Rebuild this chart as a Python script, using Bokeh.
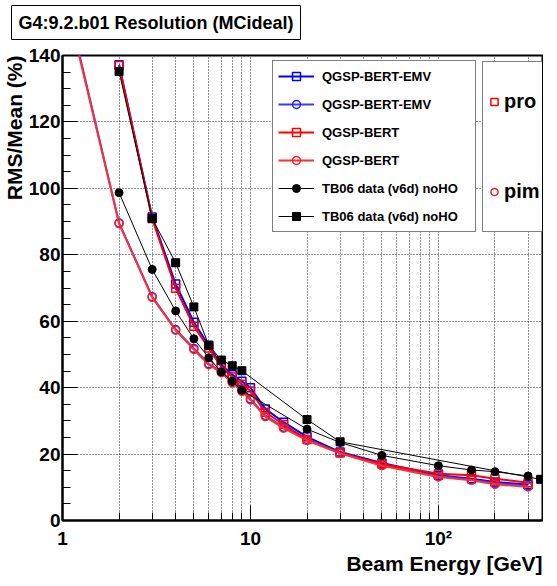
import math
from bokeh.plotting import figure
from bokeh.models import (Title, Legend, LegendItem, FixedTicker, Range1d,
                          ColumnDataSource, CustomJSTickFormatter)
from bokeh.embed import file_html
from bokeh.resources import INLINE

FONT = "Liberation Sans"

# ---------------- data ----------------
energy_mc = [2, 3, 4, 5, 6, 7, 8, 9, 10, 12, 15, 20, 30, 50, 100, 150, 200, 300]
energy_mc_pim = [1, 2, 3, 4, 5, 6, 7, 8, 9, 10, 12, 15, 20, 30, 50, 100, 150, 200, 300]

emv_pro = [137.2, 91.4, 71.2, 59.7, 52.7, 46.9, 43.9, 41.9, 40.0, 33.6, 29.6, 25.2,
           20.6, 17.3, 13.6, 12.6, 11.6, 10.8]
bert_pro = [137.0, 90.9, 69.9, 58.5, 51.9, 46.2, 43.2, 41.0, 39.0, 32.6, 28.9, 24.4,
            20.3, 17.0, 14.1, 13.6, 12.6, 11.4]
emv_pim = [162.0, 89.6, 67.4, 57.5, 51.8, 47.2, 44.8, 41.8, 39.2, 36.6, 31.6, 28.1,
           24.4, 20.4, 16.8, 13.3, 12.3, 11.2, 10.4]
bert_pim = [161.0, 89.4, 67.2, 57.3, 51.5, 46.9, 44.5, 41.5, 38.9, 36.3, 31.3, 27.8,
            24.1, 20.2, 16.5, 13.1, 12.1, 10.9, 10.1]

energy_data_pim = [2, 3, 4, 5, 6, 7, 8, 9, 20, 30, 50, 100, 150, 200, 300]
data_pim = [98.7, 75.6, 63.1, 54.7, 49.0, 44.7, 41.9, 39.2, 27.5, 23.5, 19.6, 16.5,
            15.2, 14.7, 13.4]
energy_data_pro = [2, 3, 4, 5, 6, 7, 8, 9, 20, 30, 350]
data_pro = [135.2, 90.9, 77.6, 64.3, 52.8, 48.3, 46.6, 45.1, 30.4, 23.7, 12.4]

x_major_ticks = [1, 10, 100]
x_tick_labels = ["1", "10", "10\u00b2"]
x_minor_ticks = [2, 3, 4, 5, 6, 7, 8, 9, 20, 30, 40, 50, 60, 70, 80, 90, 200, 300]
y_major_ticks = [0, 20, 40, 60, 80, 100, 120, 140]
y_minor_ticks = [v for v in range(0, 141, 5) if v % 20]

title_text = "G4:9.2.b01 Resolution (MCideal)"
x_title = "Beam Energy [GeV]"
y_title = "RMS/Mean (%)"
legend_labels = ["QGSP-BERT-EMV", "QGSP-BERT-EMV", "QGSP-BERT", "QGSP-BERT",
                 "TB06 data (v6d) noHO", "TB06 data (v6d) noHO"]
particle_labels = ["pro", "pim"]

# ---------------- layout ----------------
FL, FT, FW, FH = 58, 48, 480, 465
X_END, Y_END = 358.0, 140.0

p = figure(x_axis_type="log", x_range=Range1d(1, X_END), y_range=Range1d(0, Y_END),
           frame_width=FW, frame_height=FH,
           min_border_left=FL, min_border_right=1, min_border_top=FT, min_border_bottom=0,
           output_backend="svg", toolbar_location=None,
           background_fill_color="white", border_fill_color="white")
p.title.visible = False

# grid
for g in (p.xgrid[0], p.ygrid[0]):
    g.grid_line_color = "black"
    g.grid_line_dash = "1 2"
    g.grid_line_width = 1
    g.grid_line_alpha = 0.85
p.xgrid[0].minor_grid_line_color = "black"
p.xgrid[0].minor_grid_line_dash = "1 2"
p.xgrid[0].minor_grid_line_alpha = 0.85

p.xaxis[0].ticker = FixedTicker(ticks=x_major_ticks, minor_ticks=x_minor_ticks)
p.yaxis[0].ticker = FixedTicker(ticks=y_major_ticks, minor_ticks=y_minor_ticks)
p.xaxis[0].formatter = CustomJSTickFormatter(
    args=dict(vals=x_major_ticks, labs=x_tick_labels),
    code="const i = vals.indexOf(tick); return i >= 0 ? labs[i] : String(tick);")

for ax in (p.xaxis[0], p.yaxis[0]):
    ax.axis_line_width = 2
    ax.axis_line_color = "black"
    ax.major_tick_in = 15
    ax.major_tick_out = 0
    ax.minor_tick_in = 8
    ax.minor_tick_out = 0
    ax.major_tick_line_width = 1
    ax.minor_tick_line_width = 1
    ax.major_tick_line_color = "black"
    ax.minor_tick_line_color = "black"
    ax.major_label_text_font = FONT
    ax.major_label_text_font_style = "bold"
    ax.major_label_text_font_size = "19px"
    ax.major_label_text_color = "black"
p.yaxis[0].major_label_standoff = 2
p.xaxis[0].major_label_standoff = 7

p.outline_line_color = "black"
p.outline_line_width = 2

# ---------------- series ----------------
series = [
    (energy_mc, emv_pro, "#0000ff", "square", "open"),
    (energy_mc_pim, emv_pim, "#3c3cff", "circle", "open"),
    (energy_mc, bert_pro, "#ff0000", "square", "open"),
    (energy_mc_pim, bert_pim, "#ff3030", "circle", "open"),
    (energy_data_pim, data_pim, "black", "circle", "filled"),
    (energy_data_pro, data_pro, "black", "square", "filled"),
]
marker_colors = ["#0000ff", "#2020ff", "#ff0000", "#ff1a1a", "black", "black"]

items = []
scatters = []
for (xs, ys, col, mk, kind), mcol, lab in zip(series, marker_colors, legend_labels):
    src = ColumnDataSource(dict(E=xs, v=ys))
    if kind == "open":
        lr = p.line("E", "v", source=src, line_color=col, line_width=2)
        sr = p.scatter("E", "v", source=src, marker=mk, size=8, fill_color=None,
                       line_color=mcol, line_width=1.5)
    else:
        lr = p.line("E", "v", source=src, line_color="black", line_width=1)
        sr = p.scatter("E", "v", source=src, marker=mk, size=8, fill_color="black",
                       line_color="black", line_width=1)
    scatters.append(sr)
    items.append(LegendItem(label=lab, renderers=[lr, sr]))

leg_common = dict(margin=0, label_text_font=FONT, label_text_font_style="bold",
                  label_text_color="black", border_line_color="black",
                  border_line_width=1.5, background_fill_color="white",
                  background_fill_alpha=1.0)

leg1 = Legend(items=items, location=(210, 288), padding=5, spacing=8,
              glyph_width=36, glyph_height=20, label_height=20, label_width=148,
              label_standoff=8, label_text_font_size="13px", **leg_common)
p.add_layout(leg1)

leg2 = Legend(items=[LegendItem(label=particle_labels[0], renderers=[scatters[2]]),
                     LegendItem(label=particle_labels[1], renderers=[scatters[3]])],
              location=(420, 288), padding=2, spacing=15,
              glyph_width=18, glyph_height=75, label_height=75, label_standoff=1,
              label_text_font_size="20px", **leg_common)
p.add_layout(leg2)

# ---------------- texts (titles in the side panels) ----------------
text_common = dict(text_font=FONT, text_font_style="bold", text_color="black")

spacer = Title(text=" ", text_font_size="1px", standoff=10)
p.add_layout(spacer, "above")
main_title = Title(text=title_text, align="left", vertical_align="bottom",
                   offset=7 - FL, standoff=6, text_font_size="18px",
                   border_line_color="black", border_line_width=1,
                   background_fill_color="white", padding=7, **text_common)
p.add_layout(main_title, "above")

p.add_layout(Title(text=y_title, align="right", vertical_align="bottom", standoff=0,
                   text_font_size="21px", **text_common), "left")
p.add_layout(Title(text=x_title, align="right", vertical_align="top", standoff=0,
                   text_font_size="21px", **text_common), "below")

open("out.html", "w").write(file_html(p, INLINE))
